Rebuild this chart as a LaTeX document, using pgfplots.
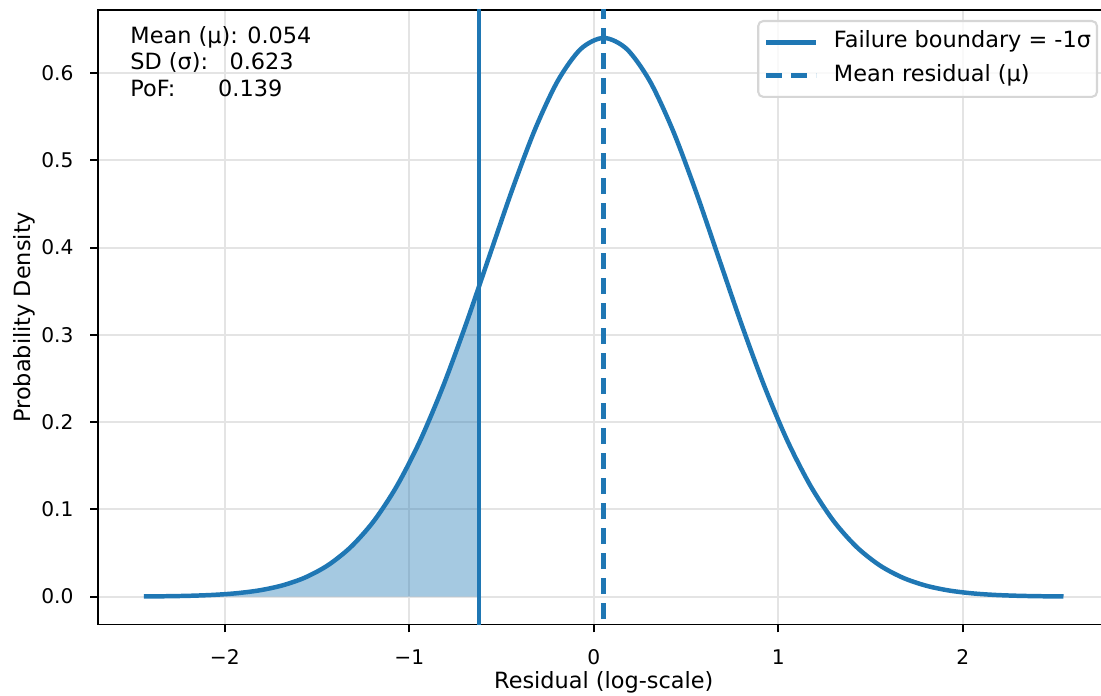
\documentclass[border=0pt]{standalone}
\usepackage{fontspec}
\setmainfont{DejaVu Sans}
\usepackage{pgfplots}
\usepackage{pgfplotstable}
\pgfplotsset{compat=1.18}

\definecolor{c0}{HTML}{1F77B4}
\definecolor{gridc}{HTML}{E4E4E4}
\definecolor{legedge}{HTML}{D6D6D6}

\newcommand{\tickfont}{\fontsize{9.7bp}{11.6bp}\selectfont}
\newcommand{\lblfont}{\fontsize{10.75bp}{12.9bp}\selectfont}

% Normal density of the residual, mu = 0.054, sigma = 0.623 (mu +/- 4 sigma)
\pgfplotstableread{
x        y
-2.4380  0.00021
-2.3134  0.00047
-2.1888  0.00098
-2.0642  0.00198
-1.9396  0.00383
-1.8150  0.00711
-1.6904  0.01271
-1.5658  0.02180
-1.4412  0.03595
-1.3166  0.05694
-1.1920  0.08666
-1.0674  0.12673
-0.9428  0.17804
-0.8182  0.24033
-0.6936  0.31170
-0.5690  0.38840
-0.4444  0.46499
-0.3198  0.53487
-0.1952  0.59112
-0.0706  0.62768
 0.0540  0.64036
 0.1786  0.62768
 0.3032  0.59112
 0.4278  0.53487
 0.5524  0.46499
 0.6770  0.38840
 0.8016  0.31170
 0.9262  0.24033
 1.0508  0.17804
 1.1754  0.12673
 1.3000  0.08666
 1.4246  0.05694
 1.5492  0.03595
 1.6738  0.02180
 1.7984  0.01271
 1.9230  0.00711
 2.0476  0.00383
 2.1722  0.00198
 2.2968  0.00098
 2.4214  0.00047
 2.5460  0.00021
}\pdfcurve

% Left tail up to the failure boundary at x = -0.623
\pgfplotstableread{
x        y
-2.4380  0.00021
-2.3134  0.00047
-2.1888  0.00098
-2.0642  0.00198
-1.9396  0.00383
-1.8150  0.00711
-1.6904  0.01271
-1.5658  0.02180
-1.4412  0.03595
-1.3166  0.05694
-1.1920  0.08666
-1.0674  0.12673
-0.9428  0.17804
-0.8182  0.24033
-0.6936  0.31170
-0.6230  0.35479
}\tailregion

\begin{document}
\begin{tikzpicture}
\useasboundingbox (-47.04bp,-34.27bp) rectangle (481.44bp,299.8bp);
\begin{axis}[
  at={(0,0)}, anchor=south west,
  scale only axis,
  width=485.5bp, height=295.0bp,
  xmin=-2.6872, xmax=2.7952,
  ymin=-0.032018, ymax=0.672375,
  axis line style={line width=0.86bp, black},
  every tick/.style={line width=0.86bp, black},
  major tick length=3.76bp,
  tick align=outside,
  xtick pos=bottom, ytick pos=left,
  xtick={-2,-1,0,1,2},
  xticklabels={−2,−1,0,1,2},
  ytick={0,0.1,0.2,0.3,0.4,0.5,0.6},
  yticklabels={0.0,0.1,0.2,0.3,0.4,0.5,0.6},
  xticklabel style={font=\tickfont, anchor=base, inner sep=0pt, yshift=-15.55bp},
  yticklabel style={font=\tickfont, anchor=east, inner sep=0pt, xshift=-7.8bp},
  grid=major,
  grid style={line width=0.86bp, gridc},
  xlabel={Residual (log-scale)},
  ylabel={Probability Density},
  xlabel style={font=\lblfont, at={(axis description cs:0.5,-0.10478)}, anchor=base, inner sep=0pt},
  ylabel style={font=\lblfont, at={(axis description cs:-0.07317,0.5)}, anchor=center, inner sep=0pt},
  legend cell align=left,
  legend image code/.code={\draw[#1] (0bp,0bp) -- (24bp,0bp);},
  legend style={
    at={(axis description cs:0.98873,0.98373)}, anchor=north east,
    draw=legedge, line width=1bp, fill=white, fill opacity=0.8, text opacity=1,
    rounded corners=2.4bp,
    inner xsep=2.9bp, inner ysep=5.2bp,
    row sep=6bp, column sep=7.3bp,
    nodes={inner sep=0pt, text height=7.6bp, text depth=2.4bp},
    font=\lblfont,
  },
]
% shaded probability of failure
\addplot[draw=none, fill=c0, fill opacity=0.4, smooth, forget plot]
  table[x=x, y=y] {\tailregion} \closedcycle;
% density curve
\addplot[c0, line width=2.15bp, smooth, forget plot]
  table[x=x, y=y] {\pdfcurve};
% failure boundary and mean
\addplot[c0, line width=2.15bp] coordinates {(-0.623,-1) (-0.623,1)};
\addlegendentry{Failure boundary = -1σ\hspace{2.9bp}}
\addplot[c0, line width=2.15bp, dash pattern=on 7.6bp off 4.4bp] coordinates {(0.054,-1) (0.054,1)};
\addlegendentry{Mean residual (μ)}

% summary statistics
\node[anchor=base west, inner sep=0pt, font=\lblfont] at (axis description cs:0.03164,0.9455) {Mean (μ): 0.054};
\node[anchor=base west, inner sep=0pt, font=\lblfont] at (axis description cs:0.03164,0.9024) {SD (σ):\ \ \ 0.623};
\node[anchor=base west, inner sep=0pt, font=\lblfont] at (axis description cs:0.03164,0.8593) {PoF:\ \ \ \ \ \ 0.139};
\end{axis}
\end{tikzpicture}
\end{document}
